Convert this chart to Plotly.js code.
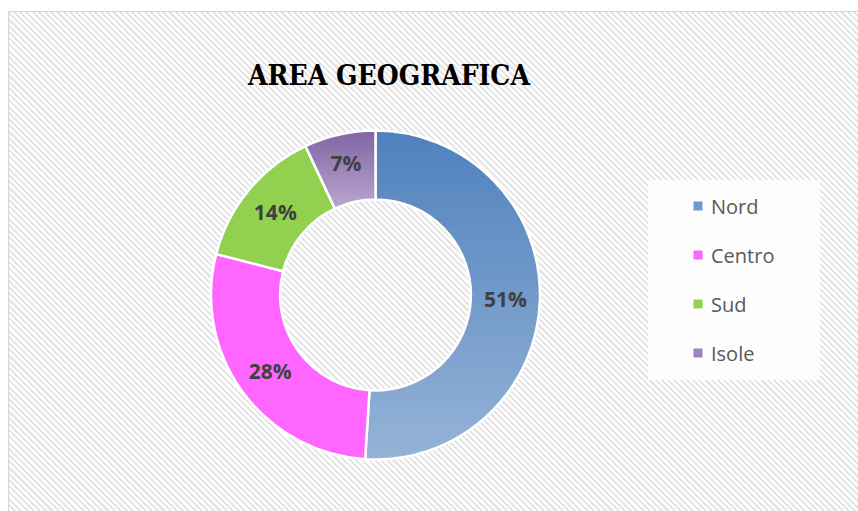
<!DOCTYPE html>
<html>
<head>
<meta charset="utf-8">
<script src="https://cdn.plot.ly/plotly-3.0.1.min.js"></script>
<style>
  html, body { margin: 0; padding: 0; background: #ffffff; }
  #wrap { position: relative; width: 858px; height: 511px; overflow: hidden; background: #ffffff; }
  #bg {
    position: absolute; left: 8px; top: 11px; width: 860px; height: 510px;
    border-left: 1.5px solid #d6d6d6; border-top: 1.5px solid #d6d6d6;
    background: repeating-linear-gradient(45deg, #ffffff 0px, #ffffff 2.2px, #e6e6e6 2.2px, #e6e6e6 4.4px);
  }
  #chart { position: absolute; left: 0; top: 0; width: 858px; height: 511px; }
</style>
</head>
<body>
<div id="wrap">
  <div id="bg"></div>
  <div id="chart"></div>
</div>
<script>
// ---- data ----
const categories = ['Nord', 'Centro', 'Sud', 'Isole'];
const values = [51, 28, 14, 7];
const colors = ['#7199cb', '#ff66ff', '#92d050', '#9b84b8'];
const chartTitle = 'AREA GEOGRAFICA';

// ---- layout helpers (margins are zero, so paper coords map directly to pixels) ----
const W = 858, H = 511;
const px = x => x / W;
const py = y => 1 - y / H;

// donut geometry
const cx = 375.5, cy = 295, R = 164.5;

const trace = {
  type: 'pie',
  labels: categories,
  values: values,
  sort: false,
  direction: 'clockwise',
  rotation: 0,
  hole: 0.58,
  marker: { colors: colors, line: { color: '#ffffff', width: 2.5 } },
  texttemplate: '%{percent:.0%}',
  textposition: 'inside',
  insidetextorientation: 'horizontal',
  textfont: { family: 'Open Sans, sans-serif', size: 21, color: '#404040', weight: 'bold' },
  domain: { x: [px(cx - R), px(cx + R)], y: [py(cy + R), py(cy - R)] },
  showlegend: false,
  hoverinfo: 'label+percent'
};

// custom legend built from the category / colour arrays
const legendBox = { x0: 648, x1: 820, y0: 180, y1: 380 };
const legendFirstY = 206, legendStep = 49, markerX = 698, markerHalf = 4.5, textX = 709;
const shapes = [{
  type: 'rect', xref: 'paper', yref: 'paper',
  x0: px(legendBox.x0), x1: px(legendBox.x1), y0: py(legendBox.y1), y1: py(legendBox.y0),
  fillcolor: 'rgba(255,255,255,0.82)', line: { width: 0 }, layer: 'below'
}];
const annotations = [];
categories.forEach((c, i) => {
  const yc = legendFirstY + i * legendStep;
  shapes.push({
    type: 'rect', xref: 'paper', yref: 'paper',
    x0: px(markerX - markerHalf), x1: px(markerX + markerHalf),
    y0: py(yc + markerHalf), y1: py(yc - markerHalf),
    fillcolor: colors[i], line: { width: 0 }
  });
  annotations.push({
    xref: 'paper', yref: 'paper', x: px(textX), y: py(yc),
    xanchor: 'left', yanchor: 'middle', showarrow: false,
    text: c, font: { family: 'Open Sans, sans-serif', size: 20, color: '#595959' }
  });
});

const layout = {
  width: W, height: H,
  margin: { l: 0, r: 0, t: 0, b: 0 },
  paper_bgcolor: 'rgba(0,0,0,0)',
  plot_bgcolor: 'rgba(0,0,0,0)',
  title: {
    text: chartTitle,
    font: { family: 'DejaVu Serif Condensed, DejaVu Serif, serif', size: 28, color: '#000000', weight: 'bold' },
    x: px(389), xanchor: 'center', xref: 'paper',
    y: py(75), yanchor: 'middle', yref: 'container'
  },
  showlegend: false,
  shapes: shapes,
  annotations: annotations
};

Plotly.newPlot('chart', [trace], layout, { displayModeBar: false, staticPlot: true }).then(gd => {
  // vertical gradients like the original (style only)
  const svg = gd.querySelector('.main-svg');
  const ns = 'http://www.w3.org/2000/svg';
  let defs = svg.querySelector('defs');
  if (!defs) { defs = document.createElementNS(ns, 'defs'); svg.insertBefore(defs, svg.firstChild); }
  const grads = { 0: ['#4f81bd', '#95b3d7'], 3: ['#8064a2', '#b9a7cf'] };
  Object.keys(grads).forEach(k => {
    const g = document.createElementNS(ns, 'linearGradient');
    g.setAttribute('id', 'sliceGrad' + k);
    g.setAttribute('x1', '0'); g.setAttribute('y1', '0'); g.setAttribute('x2', '0'); g.setAttribute('y2', '1');
    [[0, grads[k][0]], [1, grads[k][1]]].forEach(([o, c]) => {
      const s = document.createElementNS(ns, 'stop');
      s.setAttribute('offset', o); s.setAttribute('stop-color', c);
      g.appendChild(s);
    });
    defs.appendChild(g);
  });
  const paths = gd.querySelectorAll('g.slice path.surface');
  paths.forEach((p, i) => {
    if (grads[i]) p.style.fill = 'url(#sliceGrad' + i + ')';
  });
});
</script>
</body>
</html>
